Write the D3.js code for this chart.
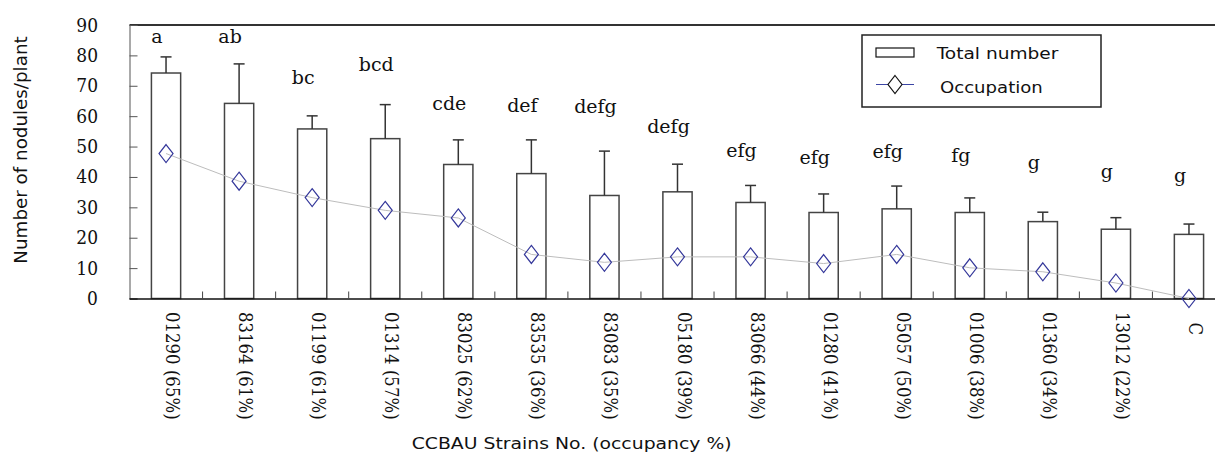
<!DOCTYPE html>
<html>
<head>
    <title>Nodules per plant and occupation by strain</title>
    <script src="https://d3js.org/d3.v7.min.js"></script>
    <style>
        body { margin: 0; background: #fff; }
    </style>
</head>
<body>
    <div id="chart"></div>

    <script>
        const strains = ["01290 (65%)", "83164 (61%)", "01199 (61%)", "01314 (57%)", "83025 (62%)",
                         "83535 (36%)", "83083 (35%)", "05180 (39%)", "83066 (44%)", "01280 (41%)",
                         "05057 (50%)", "01006 (38%)", "01360 (34%)", "13012 (22%)", "  C"];
        const totals = [74.2, 64.2, 55.8, 52.6, 44.1, 41.1, 33.9, 35.1, 31.6, 28.3, 29.5, 28.3, 25.3, 22.8, 21.1];
        const errors = [5.3, 13.0, 4.3, 11.2, 8.1, 11.1, 14.6, 9.1, 5.6, 6.1, 7.5, 4.8, 3.1, 3.8, 3.4];
        const occupation = [47.7, 38.6, 33.2, 29.0, 26.5, 14.5, 11.9, 13.7, 13.7, 11.5, 14.5, 10.1, 8.8, 5.1, 0];
        const letters = ["a", "ab", "bc", "bcd", "cde", "def", "defg", "defg", "efg", "efg", "efg", "fg", "g", "g", "g"];
        // height (in nodules) where each significance letter sits
        const letterLevel = [84, 84, 70.5, 74.8, 61.9, 61.5, 61.2, 54.3, 46.6, 44.4, 46.1, 44.9, 42.7, 39.7, 38.5];
        const yTicks = [0, 10, 20, 30, 40, 50, 60, 70, 80, 90];

        const width = 1215, height = 455;
        const plot = {left: 129.5, right: 1225.5, top: 25, bottom: 298.5};
        // DejaVu Serif is wider than the Times of the original, so some text gets squeezed
        const SERIF = "'DejaVu Serif', serif";
        const SANS = "'DejaVu Sans', Verdana, sans-serif";

        const svg = d3.select("#chart").append("svg")
            .attr("width", width)
            .attr("height", height);

        function stretch(sel, k) {
            sel.each(function() {
                const w = this.getComputedTextLength();
                d3.select(this).attr("textLength", w * k).attr("lengthAdjust", "spacingAndGlyphs");
            });
        }

        const x = d3.scaleBand()
            .domain(d3.range(strains.length))
            .range([plot.left, plot.right])
            .paddingInner(0.6)
            .paddingOuter(0.3);
        const step = x.step();
        const cx = i => x(i) + x.bandwidth() / 2;

        const y = d3.scaleLinear()
            .domain([0, 90])
            .range([plot.bottom, plot.top]);

        // frame: top border and left axis line
        svg.append("line")
            .attr("x1", plot.left).attr("x2", width)
            .attr("y1", plot.top).attr("y2", plot.top)
            .attr("stroke", "#333").attr("stroke-width", 2);

        const yAxis = svg.append("g")
            .attr("transform", "translate(" + plot.left + ",0)")
            .call(d3.axisRight(y).tickValues(yTicks).tickSize(8).tickFormat(""));
        yAxis.select(".domain").attr("stroke", "#555");
        yAxis.selectAll(".tick line").attr("stroke", "#555");

        svg.selectAll("text.ytick")
            .data(yTicks)
            .join("text")
            .attr("class", "ytick")
            .attr("font-family", SERIF)
            .attr("font-size", 18)
            .attr("fill", "#111")
            .attr("text-anchor", "end")
            .attr("transform", d => "translate(98," + (y(d) + 6.5) + ") scale(0.95,1)")
            .text(d => d);

        // bars
        svg.selectAll("rect.bar")
            .data(totals)
            .join("rect")
            .attr("class", "bar")
            .attr("x", (d, i) => x(i))
            .attr("width", x.bandwidth())
            .attr("y", d => y(d))
            .attr("height", d => y(0) - y(d))
            .attr("fill", "#fff")
            .attr("stroke", "#444")
            .attr("stroke-width", 1.5);

        // error bars (upper only)
        const err = svg.append("g").attr("stroke", "#333").attr("stroke-width", 1.5);
        err.selectAll("line.stem")
            .data(totals)
            .join("line")
            .attr("x1", (d, i) => cx(i)).attr("x2", (d, i) => cx(i))
            .attr("y1", d => y(d))
            .attr("y2", (d, i) => y(d + errors[i]));
        err.selectAll("line.cap")
            .data(totals)
            .join("line")
            .attr("x1", (d, i) => cx(i) - 5.5).attr("x2", (d, i) => cx(i) + 5.5)
            .attr("y1", (d, i) => y(d + errors[i]))
            .attr("y2", (d, i) => y(d + errors[i]));

        // x axis with short ticks between categories
        svg.append("line")
            .attr("x1", plot.left).attr("x2", width)
            .attr("y1", plot.bottom + 0.5).attr("y2", plot.bottom + 0.5)
            .attr("stroke", "#111").attr("stroke-width", 1.5);
        svg.selectAll("line.xtick")
            .data(d3.range(1, strains.length))
            .join("line")
            .attr("x1", i => plot.left + i * step).attr("x2", i => plot.left + i * step)
            .attr("y1", plot.bottom - 7).attr("y2", plot.bottom)
            .attr("stroke", "#444");

        svg.selectAll("text.xlab")
            .data(strains)
            .join("text")
            .attr("class", "xlab")
            .attr("font-family", SERIF)
            .attr("font-size", 18)
            .attr("fill", "#111")
            .style("white-space", "pre")
            .attr("transform", (d, i) => "translate(" + cx(i) + ",312) rotate(90) scale(0.92,1)")
            .text(d => d);

        // occupation line and diamonds
        svg.append("path")
            .datum(occupation)
            .attr("fill", "none")
            .attr("stroke", "#bdbdbd")
            .attr("stroke-width", 1)
            .attr("d", d3.line().x((d, i) => cx(i)).y(d => y(d)));

        const diamond = "M0,-9L7,0L0,9L-7,0Z";
        svg.selectAll("path.dia")
            .data(occupation)
            .join("path")
            .attr("class", "dia")
            .attr("d", diamond)
            .attr("transform", (d, i) => "translate(" + cx(i) + "," + y(d) + ")")
            .attr("fill", "none")
            .attr("stroke", "#34379a")
            .attr("stroke-width", 1.2);

        // significance letters
        svg.selectAll("text.letter")
            .data(letters)
            .join("text")
            .attr("class", "letter")
            .attr("font-family", SERIF)
            .attr("font-size", 19)
            .attr("fill", "#111")
            .attr("text-anchor", "middle")
            .attr("x", (d, i) => cx(i) - 9)
            .attr("y", (d, i) => y(letterLevel[i]))
            .text(d => d);

        // axis titles
        svg.append("text")
            .attr("font-family", SANS)
            .attr("fill", "#111")
            .attr("transform", "translate(27,150) rotate(-90)")
            .attr("text-anchor", "middle")
            .attr("font-size", 18.3)
            .text("Number of nodules/plant");

        svg.append("text")
            .attr("font-family", SANS)
            .attr("fill", "#111")
            .attr("x", 411.7)
            .attr("y", 449)
            .attr("font-size", 16.5)
            .text("CCBAU Strains No. (occupancy %)")
            .call(stretch, 1.14);

        // legend
        const lg = svg.append("g").attr("font-family", SANS).attr("fill", "#111");
        lg.append("rect")
            .attr("x", 862).attr("y", 35).attr("width", 239).attr("height", 72)
            .attr("fill", "#fff").attr("stroke", "#222").attr("stroke-width", 1.5);
        lg.append("rect")
            .attr("x", 876).attr("y", 48).attr("width", 38).attr("height", 9)
            .attr("fill", "#fff").attr("stroke", "#111").attr("stroke-width", 1.2);
        lg.append("text")
            .attr("x", 936.7).attr("y", 59)
            .attr("font-size", 16)
            .text("Total number")
            .call(stretch, 1.16);
        lg.append("line")
            .attr("x1", 876).attr("x2", 914).attr("y1", 84.5).attr("y2", 84.5)
            .attr("stroke", "#3b45a5").attr("stroke-width", 1.2);
        lg.append("path")
            .attr("d", diamond)
            .attr("transform", "translate(895,84.5)")
            .attr("fill", "#fff")
            .attr("stroke", "#111")
            .attr("stroke-width", 1.2);
        lg.append("text")
            .attr("x", 940).attr("y", 93)
            .attr("font-size", 16)
            .text("Occupation")
            .call(stretch, 1.13);
    </script>
</body>
</html>
